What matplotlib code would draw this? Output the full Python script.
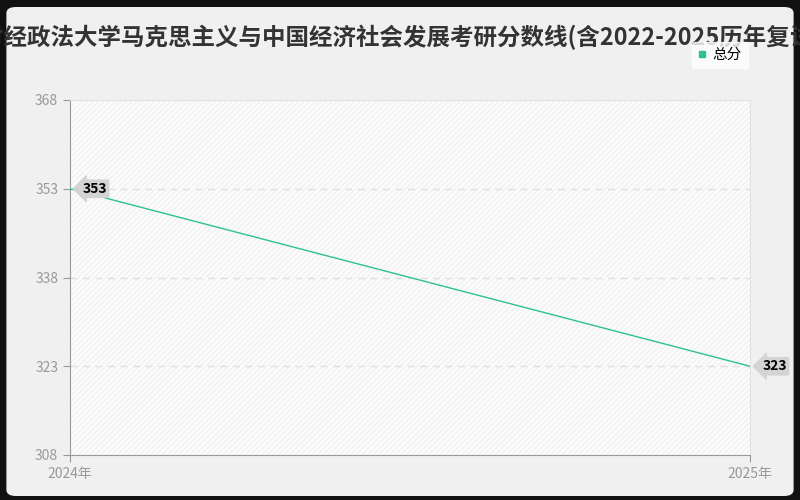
import matplotlib.pyplot as plt
from matplotlib.patches import FancyBboxPatch, Rectangle
from matplotlib.lines import Line2D

plt.rcParams['font.family'] = ['Noto Sans CJK SC', 'DejaVu Sans']
plt.rcParams['hatch.color'] = '#ebebeb'
plt.rcParams['hatch.linewidth'] = 0.6

title = '中南财经政法大学马克思主义与中国经济社会发展考研分数线(含2022-2025历年复试)'
years = ['2024年', '2025年']
total = [353, 323]
yticks = [308, 323, 338, 353, 368]
line_color = '#2ec28f'

fig = plt.figure(figsize=(8, 5), dpi=100, facecolor='#111111')
bg = FancyBboxPatch((0.008, 0.008), 0.984, 0.978, boxstyle='round,pad=0,rounding_size=0.012',
                    transform=fig.transFigure, facecolor='#f0f0f0', edgecolor='none', zorder=-10)
fig.patches.append(bg)

ax = fig.add_axes([70 / 800, 45 / 500, 680 / 800, 355 / 500])
ax.set_facecolor('white')
ax.add_patch(Rectangle((0, 0), 1, 1, transform=ax.transAxes, facecolor='#fbfbfb',
                       hatch='//////', edgecolor='#ededed', linewidth=0, zorder=0))

x = list(range(len(years)))
ax.plot(x, total, color=line_color, linewidth=1, zorder=3)

for xi, v in zip(x, total):
    ax.annotate(str(v), (xi, v), xytext=(9, 0), textcoords='offset points',
                ha='left', va='center', fontsize=10, fontweight='bold', color='black',
                bbox=dict(boxstyle='larrow,pad=0.12', facecolor='#d4d4d4', edgecolor='#d4d4d4'),
                zorder=5, annotation_clip=False)

ax.set_xlim(0, 1)
ax.set_ylim(308, 368)
ax.set_xticks(x)
ax.set_xticklabels(years)
ax.set_yticks(yticks)
for y in yticks[1:-1]:
    ax.axhline(y, color='#e0e0e0', linestyle=(0, (5, 4)), linewidth=1, zorder=1)

for s in ['top', 'right']:
    ax.spines[s].set_color('#e2e2e2')
for s in ['left', 'bottom']:
    ax.spines[s].set_color('#999999')
ax.tick_params(axis='both', colors='#999999', labelcolor='#999999', labelsize=10, length=5)

# title overflows the canvas; shift so that "经" starts near the left edge like the original
tkw = dict(fontsize=16.9, fontweight='bold', color='#333333', va='center')
renderer = fig.canvas.get_renderer()
probe = fig.text(0, 0, '中南财', **tkw)
shift = probe.get_window_extent(renderer).width
probe.remove()
fig.text((4 - shift) / 800, 0.925, title, ha='left', **tkw)

handle = Line2D([], [], linestyle='none', marker='s', markersize=5,
                markerfacecolor=line_color, markeredgecolor=line_color)
leg = fig.legend([handle], ['总分'], loc='center', bbox_to_anchor=(720 / 800, 1 - 55 / 500),
                 frameon=True, fontsize=10.5, handlelength=0.6, handletextpad=0.4,
                 borderpad=0.4, fancybox=True)
leg.get_frame().set_edgecolor('white')
leg.get_frame().set_facecolor('white')

fig.savefig('out.png', dpi=100, facecolor=fig.get_facecolor())
